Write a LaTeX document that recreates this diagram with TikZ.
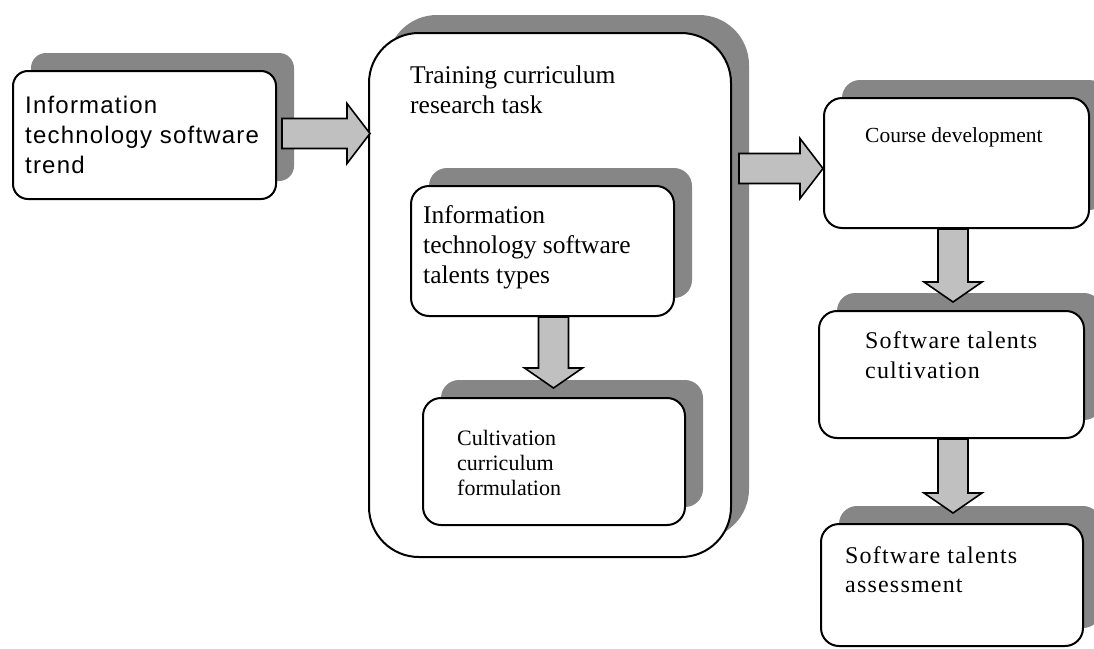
\documentclass[tikz,border=0pt]{standalone}
\usepackage{fontspec}
\setmainfont{Liberation Serif}
\newfontfamily\uisans[LetterSpace=5]{Liberation Sans}
\newfontfamily\wideserif[LetterSpace=5]{Liberation Serif}
\usetikzlibrary{calc,shadows}
\definecolor{shadowgray}{HTML}{868686}
\definecolor{arrowgray}{HTML}{C0C0C0}

% horizontal block arrow: #1 tail centre, #2 tip
\newcommand\hblock[2]{%
  \draw[blockarrow] ($(#1)+(0,-15)$) -- ($(#2)+(-23,-15)$) -- ($(#2)+(-23,-30)$)
    -- (#2) -- ($(#2)+(-23,30)$) -- ($(#2)+(-23,15)$) -- ($(#1)+(0,15)$) -- cycle;}
% downward block arrow: #1 tail centre, #2 tip
\newcommand\vblock[2]{%
  \draw[blockarrow] ($(#1)+(-15,0)$) -- ($(#2)+(-15,-20)$) -- ($(#2)+(-29,-20)$)
    -- (#2) -- ($(#2)+(29,-20)$) -- ($(#2)+(15,-20)$) -- ($(#1)+(15,0)$) -- cycle;}

\begin{document}
\begin{tikzpicture}[x=1pt,y=-1pt,
  box/.style={draw=black, line width=2pt, fill=white, rounded corners=#1,
    inner sep=0pt, anchor=north west,
    general shadow={fill=shadowgray, shadow xshift=18pt, shadow yshift=18pt}},
  box/.default=18pt,
  blockarrow/.style={draw=black, line width=1.6pt, fill=arrowgray, line join=miter},
  label/.style={anchor=base west, inner sep=0pt, align=left}]
\useasboundingbox[fill=white] (0,0) rectangle (1094,648);

% boxes
\node[box=15pt, minimum width=263pt, minimum height=128pt] (trend) at (12,70) {};
\node[box=50pt, minimum width=362pt, minimum height=524pt] (big) at (368,32) {};
\node[box, minimum width=263pt, minimum height=130pt] (types) at (410,185) {};
\node[box, minimum width=262pt, minimum height=127pt] (formul) at (422,397) {};
\node[box, minimum width=265pt, minimum height=130pt] (course) at (823,97) {};
\node[box, minimum width=265pt, minimum height=127pt] (cultiv) at (818,310) {};
\node[box, minimum width=262pt, minimum height=122pt] (assess) at (820,523) {};

% texts
\node[label, font=\uisans\fontsize{24}{30}\selectfont] (trend-t) at (25,113)
  {\vtop{\hbox{Information}\hbox{technology software}\hbox{trend}}};
\node[label, font=\fontsize{25.5}{30}\selectfont] (big-t) at (410,83)
  {\vtop{\hbox{Training curriculum}\hbox{research task}}};
\node[label, font=\fontsize{25.5}{30}\selectfont] (types-t) at (423,223)
  {\vtop{\hbox{Information}\hbox{technology software}\hbox{talents types}}};
\node[label, font=\fontsize{22}{25}\selectfont] (formul-t) at (457,445)
  {\vtop{\hbox{Cultivation}\hbox{curriculum}\hbox{formulation}}};
\node[label, font=\fontsize{21.5}{26}\selectfont] (course-t) at (865,142)
  {Course development};
\node[label, font=\wideserif\fontsize{24}{30}\selectfont] (cultiv-t) at (865,348)
  {\vtop{\hbox{Software talents}\hbox{cultivation}}};
\node[label, font=\wideserif\fontsize{24}{29}\selectfont] (assess-t) at (845,563)
  {\vtop{\hbox{Software talents}\hbox{assessment}}};

% arrow end points
\coordinate (a1s) at ($(trend.east)+(5,-1.5)$);
\coordinate (a1t) at ($(big.west |- trend.east)+(2,-1.5)$);
\coordinate (a2t) at ($(course.west)+(0,5.5)$);
\coordinate (a2s) at ($(big.east |- a2t)+(7,0)$);
\coordinate (d1s) at ($(types.south)+(11,0)$);
\coordinate (d1t) at ($(d1s |- formul.north)+(0,-9)$);
\coordinate (d2s) at ($(course.south)+(-3.5,0)$);
\coordinate (d2t) at ($(d2s |- cultiv.north)+(0,-8)$);
\coordinate (d3s) at (d2s |- cultiv.south);
\coordinate (d3t) at ($(d3s |- assess.north)+(0,-10)$);

% block arrows
\hblock{a1s}{a1t}
\hblock{a2s}{a2t}
\vblock{d1s}{d1t}
\vblock{d2s}{d2t}
\vblock{d3s}{d3t}
\end{tikzpicture}
\end{document}
